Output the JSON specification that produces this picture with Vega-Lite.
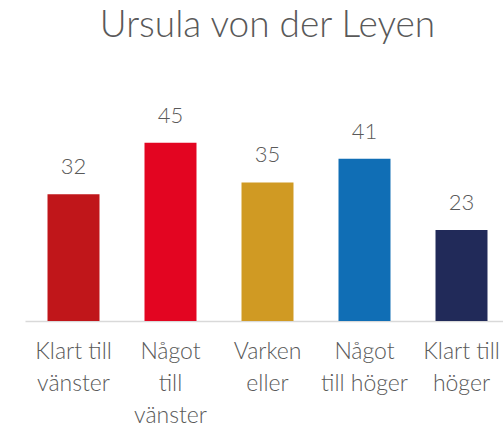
{
  "$schema": "https://vega.github.io/schema/vega-lite/v6.json",
  "width": 485,
  "height": 198,
  "padding": {"left": 25, "top": 6, "right": 0, "bottom": 0},
  "background": "white",
  "title": {
    "text": "Ursula von der Leyen",
    "font": "Lato",
    "fontSize": 37,
    "fontWeight": 300,
    "color": "#595959",
    "anchor": "middle",
    "frame": "group",
    "baseline": "top",
    "offset": 60
  },
  "data": {
    "values": [
      {"kategori": "Klart till|vänster", "varde": 32, "farg": "#C0161A"},
      {"kategori": "Något|till|vänster", "varde": 45, "farg": "#E30521"},
      {"kategori": "Varken|eller", "varde": 35, "farg": "#D09A23"},
      {"kategori": "Något|till höger", "varde": 41, "farg": "#106EB5"},
      {"kategori": "Klart till|höger", "varde": 23, "farg": "#212A59"}
    ]
  },
  "config": {"view": {"stroke": null}},
  "encoding": {
    "x": {
      "field": "kategori",
      "type": "nominal",
      "sort": null,
      "scale": {"paddingInner": 0.464, "paddingOuter": 0.232},
      "axis": {
        "title": null,
        "labelAngle": 0,
        "labelExpr": "split(datum.label, '|')",
        "labelFont": "Lato",
        "labelFontSize": 23,
        "labelFontWeight": 300,
        "labelColor": "#595959",
        "labelLineHeight": 32,
        "labelPadding": 19,
        "labelBaseline": "top",
        "ticks": false,
        "domainColor": "#D9D9D9",
        "domainWidth": 1.5,
        "grid": false
      }
    },
    "y": {
      "field": "varde",
      "type": "quantitative",
      "scale": {"domain": [0, 50]},
      "axis": null
    }
  },
  "layer": [
    {
      "mark": {"type": "bar"},
      "encoding": {
        "color": {"field": "farg", "type": "nominal", "scale": null}
      }
    },
    {
      "mark": {"type": "text", "dy": -20, "baseline": "alphabetic", "font": "Lato", "fontSize": 22, "fontWeight": 300, "color": "#595959"},
      "encoding": {"text": {"field": "varde", "type": "quantitative"}}
    }
  ]
}
